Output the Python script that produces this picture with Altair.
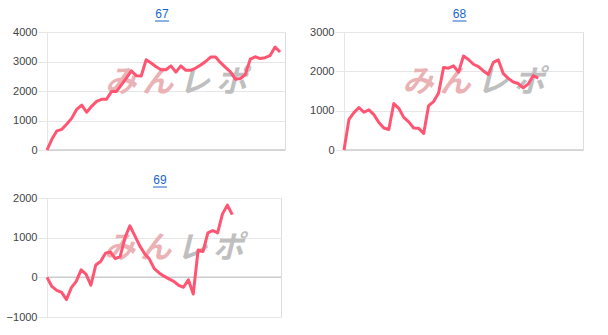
import altair as alt
import pandas as pd

# ---- data ----
x_max = 48
titles = ["67", "68", "69"]

values_67 = [0, 370, 650, 700, 880, 1080, 1380, 1520, 1280, 1480, 1650, 1720,
             1720, 1980, 1980, 2210, 2440, 2680, 2520, 2510, 3060, 2950, 2820,
             2720, 2720, 2850, 2640, 2850, 2700, 2700, 2780, 2880, 3000, 3150,
             3150, 2960, 2800, 2650, 2400, 2420, 2560, 3080, 3160, 3100, 3130,
             3200, 3490, 3320]

values_68 = [0, 780, 950, 1080, 960, 1020, 900, 700, 560, 520, 1180, 1060, 830,
             715, 560, 550, 420, 1130, 1230, 1450, 2100, 2080, 2140, 1980, 2390,
             2300, 2180, 2120, 2010, 1920, 2230, 2290, 1940, 1820, 1730, 1690,
             1580, 1680, 1890, 1830]

values_69 = [0, -230, -330, -380, -560, -260, -100, 190, 80, -200, 310, 400, 610,
             640, 470, 520, 1000, 1300, 1050, 800, 600, 460, 220, 110, 30, -40,
             -100, -200, -250, -60, -420, 690, 650, 1120, 1180, 1120, 1600, 1820,
             1580]

domains = [[0, 4000], [0, 3000], [-1000, 2000]]
tick_values = [[0, 1000, 2000, 3000, 4000],
               [0, 1000, 2000, 3000],
               [-1000, 0, 1000, 2000]]

watermark_chars = ["み", "ん", "レ", "ポ"]
watermark_colors = ["#ebb2b5", "#ebb2b5", "#bfbfbf", "#bfbfbf"]

LINE = "#ff5573"
GRID = "#e6e6e6"
LINK = "#1a66cc"
FONT = "Arial"


def panel(title, values, domain, ticks, width, height):
    df = pd.DataFrame({"i": list(range(len(values))), "v": values})
    zero_df = pd.DataFrame({"v": [0]})
    one = pd.DataFrame({"k": [0]})

    def yenc():
        return alt.Y(
            "v:Q",
            scale=alt.Scale(domain=domain, nice=False),
            axis=alt.Axis(values=ticks, format="d", labelOverlap=False,
                          grid=True, gridColor=GRID, gridWidth=1,
                          domain=True, domainColor=GRID, ticks=True,
                          tickColor=GRID, tickSize=9, labelPadding=1,
                          labelFontSize=11, labelColor="#444444",
                          labelFont=FONT, title=None),
        )

    line = alt.Chart(df).mark_line(color=LINE, strokeWidth=3,
                                   strokeJoin="round").encode(
        x=alt.X("i:Q", scale=alt.Scale(domain=[0, x_max], nice=False), axis=None),
        y=yenc(),
    )
    zero = alt.Chart(zero_df).mark_rule(color="#cccccc", strokeWidth=1.5).encode(
        y=yenc()
    )
    cy = height * 0.43
    wm_layers = []
    for k, (ch, col) in enumerate(zip(watermark_chars, watermark_colors)):
        frac = 0.31 + 0.155 * k
        wm_layers.append(
            alt.Chart(one).mark_text(
                text=ch, font="Noto Sans CJK JP", fontSize=31, fontWeight="bold",
                fontStyle="italic", color=col, align="center", baseline="middle"
            ).encode(x=alt.value(width * frac), y=alt.value(cy))
        )
    ttl = alt.Chart(one).mark_text(
        text=title, font=FONT, fontSize=12, color=LINK, align="center",
        baseline="alphabetic"
    ).encode(x=alt.value(width / 2 - 4), y=alt.value(-14))
    underline = alt.Chart(one).mark_rule(color=LINK, strokeWidth=1).encode(
        x=alt.value(width / 2 - 11), x2=alt.value(width / 2 + 3), y=alt.value(-11)
    )
    return alt.layer(*wm_layers, zero, line, ttl, underline).properties(
        width=width, height=height
    )


p1 = panel(titles[0], values_67, domains[0], tick_values[0], 238, 118)
p2 = panel(titles[1], values_68, domains[1], tick_values[1], 239, 118)
p3 = panel(titles[2], values_69, domains[2], tick_values[2], 234, 119)

chart = alt.vconcat(
    alt.hconcat(p1, p2, spacing=22),
    p3,
    spacing=17,
).properties(
    padding={"left": 5, "top": 7, "right": 5, "bottom": 5}
).configure_view(stroke=None).configure(background="white")

chart.save("out.html", embed_options={"renderer": "svg", "actions": False})
